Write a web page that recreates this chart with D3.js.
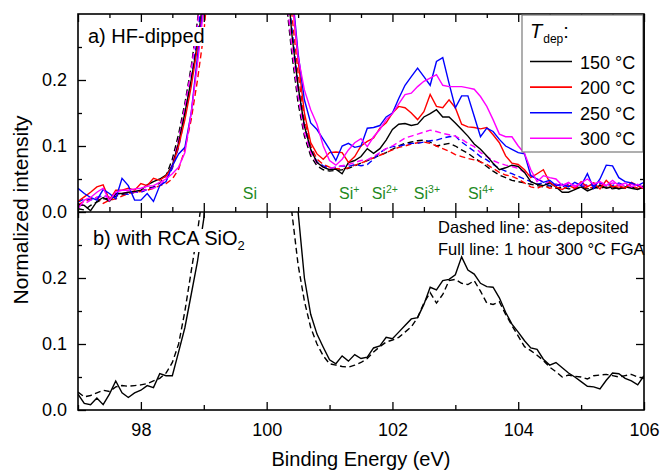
<!DOCTYPE html>
<html><head><meta charset="utf-8">
<script src="https://cdn.jsdelivr.net/npm/d3@7"></script>
<style>
html,body{margin:0;padding:0;background:#fff;}
svg text{font-family:"Liberation Sans",Arial,sans-serif;}
</style></head>
<body>
<svg id="chart" width="662" height="470"></svg>
<script>
// ---------- DATA ----------
const energy = [97.0,97.1,97.2,97.3,97.4,97.5,97.6,97.7,97.8,97.9,
98.0,98.1,98.2,98.3,98.4,98.5,98.6,98.7,98.8,98.9,
99.0,99.1,99.2,99.3,99.4,99.5,99.6,99.7,99.8,99.9,
100.0,100.1,100.2,100.3,100.4,100.5,100.6,100.7,100.8,100.9,
101.0,101.1,101.2,101.3,101.4,101.5,101.6,101.7,101.8,101.9,
102.0,102.1,102.2,102.3,102.4,102.5,102.6,102.7,102.8,102.9,
103.0,103.1,103.2,103.3,103.4,103.5,103.6,103.7,103.8,103.9,
104.0,104.1,104.2,104.3,104.4,104.5,104.6,104.7,104.8,104.9,
105.0,105.1,105.2,105.3,105.4,105.5,105.6,105.7,105.8,105.9,106.0];

// panel a) HF-dipped, full lines (after FGA)
const a150Full = [0.011,0.010,0.002,0.016,0.022,0.016,0.028,0.028,0.030,0.031,
0.033,0.041,0.046,0.050,0.056,0.070,0.105,0.150,0.200,0.255,
0.33,0.48,0.70,0.90,1.00,0.95,0.90,0.95,1.00,0.90,
0.75,0.60,0.48,0.38,0.27,0.19,0.13,0.095,0.075,0.068,
0.064,0.065,0.058,0.075,0.078,0.084,0.096,0.089,0.096,0.109,
0.125,0.133,0.134,0.131,0.133,0.144,0.149,0.155,0.144,0.144,
0.135,0.125,0.115,0.103,0.095,0.085,0.074,0.064,0.067,0.071,
0.069,0.060,0.046,0.042,0.040,0.044,0.038,0.030,0.030,0.034,
0.038,0.032,0.036,0.040,0.036,0.038,0.035,0.038,0.036,0.034,0.040];
const a200Full = [0.016,0.023,0.030,0.038,0.041,0.018,0.033,0.033,0.036,0.033,
0.043,0.040,0.051,0.048,0.055,0.068,0.100,0.140,0.190,0.250,
0.32,0.46,0.70,0.90,1.00,0.95,0.90,0.95,1.00,0.90,
0.78,0.64,0.52,0.42,0.33,0.23,0.15,0.105,0.088,0.080,
0.090,0.091,0.090,0.075,0.084,0.100,0.107,0.112,0.127,0.135,
0.150,0.160,0.158,0.150,0.140,0.152,0.178,0.160,0.158,0.170,
0.158,0.133,0.129,0.128,0.126,0.128,0.117,0.105,0.085,0.074,
0.072,0.064,0.052,0.058,0.064,0.045,0.038,0.034,0.040,0.036,
0.046,0.038,0.044,0.035,0.048,0.038,0.040,0.036,0.045,0.040,0.035];
const a250Full = [0.036,0.028,0.022,0.018,0.034,0.028,0.020,0.051,0.040,0.018,
0.018,0.028,0.016,0.040,0.046,0.070,0.088,0.098,0.150,0.235,
0.32,0.46,0.70,0.90,1.00,0.95,0.90,0.95,1.00,0.90,
0.80,0.66,0.54,0.44,0.34,0.24,0.17,0.135,0.125,0.110,
0.095,0.078,0.100,0.104,0.098,0.100,0.127,0.128,0.131,0.144,
0.150,0.172,0.192,0.205,0.218,0.205,0.192,0.228,0.234,0.195,
0.158,0.176,0.176,0.145,0.114,0.127,0.122,0.110,0.100,0.095,
0.090,0.088,0.055,0.050,0.045,0.048,0.040,0.042,0.038,0.045,
0.040,0.058,0.036,0.050,0.071,0.070,0.052,0.046,0.044,0.040,0.045];
const a300Full = [0.005,0.018,0.022,0.030,0.036,0.017,0.030,0.033,0.033,0.035,
0.036,0.039,0.040,0.045,0.050,0.058,0.068,0.090,0.150,0.225,
0.31,0.44,0.68,0.90,1.00,0.95,0.90,0.95,1.00,0.90,
0.82,0.70,0.58,0.45,0.33,0.235,0.185,0.155,0.133,0.100,
0.078,0.071,0.080,0.094,0.105,0.111,0.099,0.114,0.125,0.140,
0.149,0.164,0.178,0.180,0.190,0.198,0.203,0.208,0.192,0.190,
0.190,0.190,0.188,0.186,0.175,0.160,0.140,0.118,0.114,0.114,
0.100,0.089,0.064,0.046,0.055,0.052,0.050,0.040,0.045,0.038,
0.044,0.050,0.042,0.046,0.040,0.048,0.040,0.044,0.038,0.042,0.036];

// panel a) HF-dipped, dashed lines (as-deposited)
const a150Dash = [0.005,0.003,0.010,0.015,0.020,0.020,0.024,0.026,0.028,0.030,
0.032,0.035,0.038,0.044,0.055,0.080,0.118,0.165,0.220,0.290,
0.38,0.52,0.75,0.95,1.00,0.95,0.90,0.95,1.00,0.88,
0.70,0.55,0.42,0.33,0.24,0.165,0.115,0.085,0.070,0.064,
0.062,0.063,0.064,0.066,0.070,0.074,0.078,0.082,0.086,0.090,
0.095,0.100,0.104,0.106,0.108,0.109,0.106,0.100,0.102,0.104,
0.100,0.094,0.089,0.082,0.076,0.069,0.062,0.056,0.052,0.048,
0.046,0.044,0.042,0.040,0.038,0.040,0.036,0.038,0.035,0.036,
0.038,0.035,0.037,0.036,0.038,0.035,0.037,0.036,0.038,0.035,0.037];
const a200Dash = [0.011,0.016,0.020,0.022,0.013,0.018,0.020,0.024,0.028,0.030,
0.031,0.033,0.036,0.040,0.043,0.050,0.065,0.095,0.140,0.200,
0.27,0.38,0.60,0.85,1.00,0.95,0.90,0.95,1.00,0.90,
0.78,0.64,0.50,0.40,0.30,0.21,0.14,0.100,0.080,0.072,
0.068,0.066,0.065,0.067,0.071,0.074,0.078,0.082,0.086,0.090,
0.094,0.098,0.100,0.103,0.105,0.106,0.104,0.100,0.096,0.092,
0.087,0.084,0.081,0.079,0.076,0.072,0.066,0.060,0.056,0.054,
0.050,0.044,0.038,0.036,0.040,0.036,0.038,0.034,0.040,0.036,
0.040,0.036,0.038,0.042,0.036,0.040,0.036,0.038,0.040,0.036,0.035];
const a250Dash = [0.015,0.020,0.018,0.022,0.025,0.022,0.026,0.028,0.027,0.030,
0.030,0.034,0.037,0.040,0.048,0.066,0.098,0.145,0.200,0.265,
0.35,0.50,0.72,0.92,1.00,0.95,0.90,0.95,1.00,0.90,
0.75,0.60,0.47,0.37,0.28,0.19,0.13,0.095,0.076,0.070,
0.066,0.068,0.070,0.069,0.072,0.070,0.072,0.080,0.090,0.096,
0.099,0.100,0.102,0.104,0.104,0.106,0.108,0.109,0.112,0.114,
0.115,0.106,0.099,0.092,0.084,0.079,0.072,0.066,0.062,0.058,
0.054,0.050,0.046,0.042,0.044,0.040,0.042,0.038,0.042,0.040,
0.038,0.042,0.040,0.044,0.042,0.040,0.044,0.040,0.042,0.040,0.038];
const a300Dash = [0.008,0.012,0.018,0.022,0.024,0.022,0.026,0.028,0.030,0.030,
0.032,0.034,0.036,0.040,0.050,0.072,0.110,0.160,0.215,0.285,
0.37,0.52,0.74,0.94,1.00,0.95,0.90,0.95,1.00,0.88,
0.70,0.56,0.44,0.34,0.25,0.175,0.12,0.090,0.074,0.068,
0.066,0.068,0.070,0.072,0.075,0.078,0.079,0.084,0.090,0.096,
0.100,0.106,0.112,0.115,0.118,0.121,0.124,0.122,0.119,0.117,
0.115,0.110,0.104,0.099,0.090,0.084,0.078,0.074,0.071,0.069,
0.066,0.060,0.056,0.050,0.046,0.044,0.042,0.040,0.044,0.040,
0.042,0.040,0.044,0.042,0.040,0.044,0.042,0.040,0.042,0.040,0.038];

// panel b) with RCA SiO2
const bFull = [0.024,0.010,0.008,0.018,0.008,0.024,0.044,0.026,0.019,0.026,
0.030,0.037,0.034,0.055,0.052,0.052,0.088,0.125,0.175,0.225,
0.29,0.40,0.60,0.85,1.00,0.95,0.90,0.95,1.00,0.92,
0.82,0.70,0.58,0.48,0.40,0.30,0.20,0.145,0.115,0.095,
0.076,0.070,0.082,0.074,0.084,0.078,0.080,0.094,0.097,0.110,
0.108,0.118,0.128,0.138,0.140,0.160,0.186,0.182,0.196,0.198,
0.205,0.232,0.212,0.206,0.192,0.187,0.186,0.170,0.148,0.130,
0.118,0.105,0.094,0.092,0.077,0.068,0.072,0.064,0.056,0.050,
0.043,0.036,0.035,0.032,0.045,0.056,0.055,0.048,0.044,0.038,0.052];
const bDash = [0.027,0.020,0.022,0.026,0.030,0.028,0.035,0.037,0.036,0.037,
0.038,0.040,0.044,0.048,0.056,0.072,0.100,0.150,0.210,0.270,
0.34,0.48,0.70,0.90,1.00,0.95,0.90,0.95,1.00,0.88,
0.72,0.58,0.45,0.38,0.30,0.22,0.165,0.125,0.100,0.082,
0.070,0.068,0.066,0.065,0.068,0.072,0.078,0.088,0.096,0.103,
0.106,0.110,0.118,0.126,0.140,0.162,0.178,0.162,0.175,0.196,
0.198,0.192,0.190,0.196,0.180,0.162,0.160,0.164,0.145,0.128,
0.112,0.096,0.090,0.083,0.075,0.065,0.058,0.050,0.053,0.051,
0.050,0.047,0.052,0.053,0.054,0.052,0.050,0.052,0.054,0.050,0.048];

const legendLabels = ["150 °C","200 °C","250 °C","300 °C"];
const seriesColors = ["#000000","#ff0000","#0000ff","#ff00ff"];
const yTickValues = [0.0, 0.1, 0.2];
const xTickLabels = [98, 100, 102, 104, 106];
const statesLabels = [
  {base:"Si", sup:"", e:99.62},
  {base:"Si", sup:"+", e:101.15},
  {base:"Si", sup:"2+", e:101.67},
  {base:"Si", sup:"3+", e:102.34},
  {base:"Si", sup:"4+", e:103.2}
];

// ---------- LAYOUT ----------
const svg = d3.select("#chart");
const L = 78, R = 644, Ta = 14, B_a = 212, Bb = 410;
const x = d3.scaleLinear().domain([97,106]).range([L,R]);
const ya = d3.scaleLinear().domain([0,0.3]).range([B_a,Ta]);
const yb = d3.scaleLinear().domain([0,0.3]).range([Bb,B_a]);

const defs = svg.append("defs");
defs.append("clipPath").attr("id","clipA").append("rect")
  .attr("x",L).attr("y",Ta).attr("width",R-L).attr("height",B_a-Ta);
defs.append("clipPath").attr("id","clipB").append("rect")
  .attr("x",L).attr("y",B_a).attr("width",R-L).attr("height",Bb-B_a);

function lineFor(yScale){
  return d3.line().x((d,i)=>x(energy[i])).y(d=>yScale(d));
}

// panel a curves
const gA = svg.append("g").attr("clip-path","url(#clipA)");
const dashA = [a150Dash,a200Dash,a250Dash,a300Dash];
const fullA = [a150Full,a200Full,a250Full,a300Full];
dashA.forEach((s,k)=>{
  gA.append("path").datum(s).attr("d",lineFor(ya)).attr("fill","none")
    .attr("stroke",seriesColors[k]).attr("stroke-width",1.4)
    .attr("stroke-dasharray","6,3.5");
});
fullA.forEach((s,k)=>{
  gA.append("path").datum(s).attr("d",lineFor(ya)).attr("fill","none")
    .attr("stroke",seriesColors[k]).attr("stroke-width",1.4);
});

// panel b curves
const gB = svg.append("g").attr("clip-path","url(#clipB)");
gB.append("path").datum(bDash).attr("d",lineFor(yb)).attr("fill","none")
  .attr("stroke","#000").attr("stroke-width",1.4).attr("stroke-dasharray","6,3.5");
gB.append("path").datum(bFull).attr("d",lineFor(yb)).attr("fill","none")
  .attr("stroke","#000").attr("stroke-width",1.4);

// ---------- AXES ----------
const axG = svg.append("g").attr("class","axes");
function styleAxis(g){
  g.select(".domain").remove();
  g.selectAll(".tick line").attr("stroke","#000").attr("stroke-width",1.3);
  g.selectAll(".tick text").attr("font-size","18px").attr("fill","#000")
    .attr("font-family","'Liberation Sans',Arial,sans-serif");
}
const minorY = [0.05,0.15,0.25];
const majorXa = d3.range(97,107,1);
const minorXa = d3.range(97.5,106,1);

// panel a left
axG.append("g").attr("transform",`translate(${L},0)`)
  .call(d3.axisLeft(ya).tickValues(yTickValues).tickSizeInner(-8).tickSizeOuter(0).tickPadding(11).tickFormat(d3.format(".1f")))
  .call(styleAxis);
axG.append("g").attr("transform",`translate(${L},0)`)
  .call(d3.axisLeft(ya).tickValues(minorY).tickSize(-4).tickFormat(""))
  .call(styleAxis);
// panel a right
axG.append("g").attr("transform",`translate(${R},0)`)
  .call(d3.axisRight(ya).tickValues([0.1,0.2]).tickSize(-8).tickFormat("")).call(styleAxis);
axG.append("g").attr("transform",`translate(${R},0)`)
  .call(d3.axisRight(ya).tickValues(minorY).tickSize(-4).tickFormat("")).call(styleAxis);
// panel a top
axG.append("g").attr("transform",`translate(0,${Ta})`)
  .call(d3.axisTop(x).tickValues(majorXa).tickSize(-8).tickFormat("")).call(styleAxis);
axG.append("g").attr("transform",`translate(0,${Ta})`)
  .call(d3.axisTop(x).tickValues(minorXa).tickSize(-4).tickFormat("")).call(styleAxis);
// panel a bottom (inward = up)
axG.append("g").attr("transform",`translate(0,${B_a})`)
  .call(d3.axisBottom(x).tickValues(majorXa).tickSize(-9).tickFormat("")).call(styleAxis);
axG.append("g").attr("transform",`translate(0,${B_a})`)
  .call(d3.axisBottom(x).tickValues(minorXa).tickSize(-5).tickFormat("")).call(styleAxis);
// panel b top (inward = down)
axG.append("g").attr("transform",`translate(0,${B_a})`)
  .call(d3.axisTop(x).tickValues(majorXa).tickSize(-6).tickFormat("")).call(styleAxis);

// panel b left
axG.append("g").attr("transform",`translate(${L},0)`)
  .call(d3.axisLeft(yb).tickValues(yTickValues).tickSizeInner(-8).tickSizeOuter(0).tickPadding(11).tickFormat(d3.format(".1f")))
  .call(styleAxis);
axG.append("g").attr("transform",`translate(${L},0)`)
  .call(d3.axisLeft(yb).tickValues(minorY).tickSize(-4).tickFormat("")).call(styleAxis);
// panel b right
axG.append("g").attr("transform",`translate(${R},0)`)
  .call(d3.axisRight(yb).tickValues([0.1,0.2]).tickSize(-8).tickFormat("")).call(styleAxis);
axG.append("g").attr("transform",`translate(${R},0)`)
  .call(d3.axisRight(yb).tickValues(minorY).tickSize(-4).tickFormat("")).call(styleAxis);
// panel b bottom
axG.append("g").attr("transform",`translate(0,${Bb})`)
  .call(d3.axisBottom(x).tickValues(xTickLabels).tickSizeInner(-8).tickSizeOuter(0).tickPadding(13).tickFormat(d3.format("d")))
  .call(styleAxis);
axG.append("g").attr("transform",`translate(0,${Bb})`)
  .call(d3.axisBottom(x).tickValues([97,99,101,103,105]).tickSize(-5).tickFormat("")).call(styleAxis);

// frames
const frame = svg.append("g").attr("fill","none").attr("stroke","#000").attr("stroke-width",1.6);
frame.append("rect").attr("x",L).attr("y",Ta).attr("width",R-L).attr("height",Bb-Ta);
frame.append("line").attr("x1",L).attr("x2",R).attr("y1",B_a).attr("y2",B_a);

// ---------- LABELS ----------
function panelLabel(xp, yp, build){
  const g = svg.append("g");
  const t = g.append("text").attr("x",xp).attr("y",yp).attr("font-size","20px").attr("fill","#000");
  build(t);
  const bb = t.node().getBBox();
  g.insert("rect","text").attr("x",bb.x-1).attr("y",bb.y+2).attr("width",bb.width+2).attr("height",bb.height-3).attr("fill","#fff");
}
panelLabel(88, 43, t=>t.text("a) HF-dipped"));
panelLabel(93, 245, t=>{
  t.append("tspan").text("b) with RCA SiO");
  t.append("tspan").attr("font-size","13px").attr("dy","5").text("2");
});

// green oxidation state labels
statesLabels.forEach(s=>{
  const t = svg.append("text").attr("x",x(s.e)).attr("y",199)
    .attr("font-size","16px").attr("fill","#1f8a1f");
  t.append("tspan").text(s.base);
  if(s.sup) t.append("tspan").attr("font-size","10.5px").attr("dy","-6.5").text(s.sup);
});

// annotation texts in panel b
svg.append("text").attr("x",438).attr("y",233).attr("font-size","16.5px").attr("fill","#000")
  .text("Dashed line: as-deposited");
svg.append("text").attr("x",438).attr("y",255).attr("font-size","16.5px").attr("fill","#000")
  .text("Full line: 1 hour 300 °C FGA");

// axis titles
svg.append("text").attr("x",(L+R)/2).attr("y",466).attr("text-anchor","middle")
  .attr("font-size","20px").attr("fill","#000").text("Binding Energy (eV)");
svg.append("text").attr("transform","translate(28,210) rotate(-90)").attr("text-anchor","middle")
  .attr("font-size","21px").attr("fill","#000").text("Normalized intensity");

// ---------- LEGEND ----------
const lg = svg.append("g");
lg.append("rect").attr("x",522).attr("y",15).attr("width",121).attr("height",137)
  .attr("fill","#fff").attr("stroke","#7a7a7a").attr("stroke-width",1.2);
const tt = lg.append("text").attr("x",530).attr("y",38).attr("font-size","20px").attr("fill","#000");
tt.append("tspan").attr("font-style","italic").text("T");
tt.append("tspan").attr("font-size","12px").attr("dy","5").attr("dx","1").text("dep");
tt.append("tspan").attr("dy","-5").text(":");
legendLabels.forEach((lab,k)=>{
  const yy = 61.5 + k*25.6;
  lg.append("line").attr("x1",530).attr("x2",572).attr("y1",yy).attr("y2",yy)
    .attr("stroke",seriesColors[k]).attr("stroke-width",1.6);
  lg.append("text").attr("x",580).attr("y",yy+7).attr("font-size","18px").attr("fill","#000").text(lab);
});
svg.append("line").attr("x1",R).attr("x2",R).attr("y1",Ta).attr("y2",B_a).attr("stroke","#000").attr("stroke-width",1.6);
</script>
</body></html>
